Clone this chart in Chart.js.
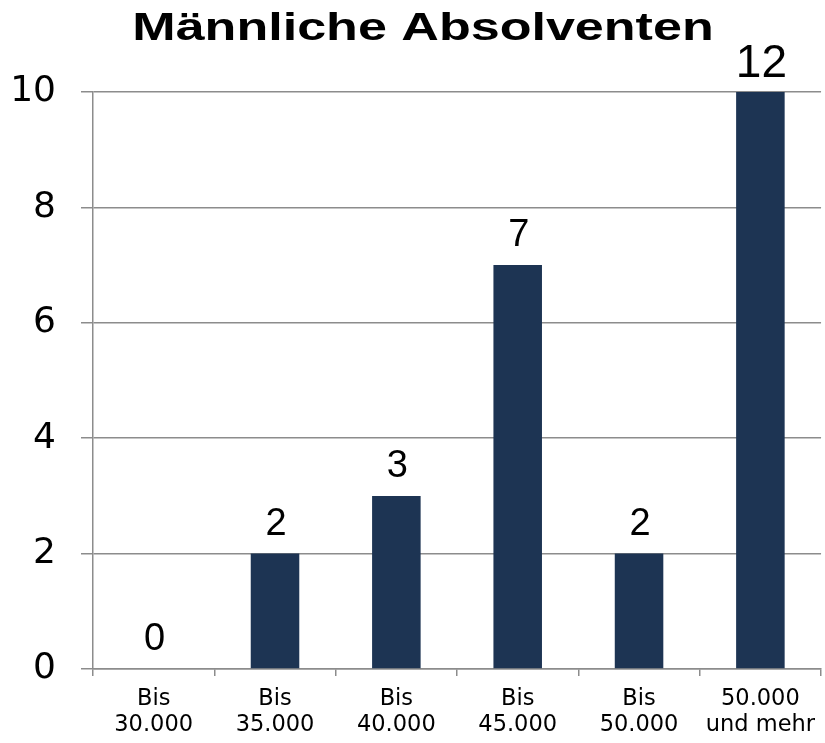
<!DOCTYPE html>
<html>
<head>
<meta charset="utf-8">
<script src="https://cdn.jsdelivr.net/npm/chart.js@4.4.1/dist/chart.umd.min.js"></script>
<style>
  html, body { margin: 0; padding: 0; background: #fff; }
  #wrap { width: 825px; height: 743px; }
</style>
</head>
<body>
<div id="wrap"><canvas id="bar-chart" width="825" height="743"></canvas></div>
<script>
// data
let chartTitle = 'Männliche Absolventen';
let categories = [
  ['Bis', '30.000'],
  ['Bis', '35.000'],
  ['Bis', '40.000'],
  ['Bis', '45.000'],
  ['Bis', '50.000'],
  ['50.000', 'und mehr'],
];
let values = [0, 2, 3, 7, 2, 12];
let yTicks = [0, 2, 4, 6, 8, 10];

const barColor = '#1d3453';
const gridColor = '#8c8c8c';

// draw text stretched sideways (the original title is wide)
function wideText(ctx, text, x, y, stretch) {
  ctx.save();
  ctx.translate(x, y);
  ctx.scale(stretch, 1);
  ctx.fillText(text, 0, 0);
  ctx.restore();
}

const wideTitle = {
  id: 'wideTitle',
  afterDraw(chart) {
    const ctx = chart.ctx;
    ctx.save();
    ctx.fillStyle = '#000';
    ctx.font = 'bold 38px "Liberation Sans", Arial, sans-serif';
    ctx.textAlign = 'center';
    ctx.textBaseline = 'alphabetic';
    wideText(ctx, chartTitle, 423, 40, 1.37);
    ctx.restore();
  }
};

// number above each bar (a bar taller than the axis gets it above the top, bigger)
const valueLabels = {
  id: 'valueLabels',
  afterDatasetsDraw(chart) {
    const ctx = chart.ctx;
    const area = chart.chartArea;
    const meta = chart.getDatasetMeta(0);
    ctx.save();
    ctx.fillStyle = '#000';
    ctx.textAlign = 'center';
    ctx.textBaseline = 'alphabetic';
    meta.data.forEach((bar, i) => {
      let clipped = bar.y < area.top;
      ctx.font = (clipped ? 46 : 38) + 'px "Liberation Sans", Arial, sans-serif';
      let top = Math.max(bar.y, area.top);
      ctx.fillText(String(values[i]), bar.x + 1, top - (clipped ? 15 : 19));
    });
    ctx.restore();
  }
};

const chart = new Chart(document.getElementById('bar-chart'), {
  type: 'bar',
  data: {
    labels: categories,
    datasets: [{
      label: chartTitle,
      data: values,
      backgroundColor: barColor,
      barPercentage: 0.4,
      categoryPercentage: 1,
    }],
  },
  options: {
    responsive: false,
    animation: false,
    layout: { padding: { top: 92, right: 0, bottom: 0, left: 0 } },
    plugins: {
      legend: { display: false },
      tooltip: { enabled: false },
      title: { display: false },
    },
    scales: {
      x: {
        grid: {
          display: true,
          offset: true,
          drawOnChartArea: false,
          drawTicks: true,
          tickLength: 7,
          color: gridColor,
          lineWidth: 1.5,
        },
        border: { display: true, color: gridColor, width: 1.5 },
        ticks: {
          color: '#000',
          padding: 10,
          maxRotation: 0,
          autoSkip: false,
          font: { family: '"DejaVu Sans", Verdana, sans-serif', size: 22.5, lineHeight: 1.16 },
        },
        afterFit(scale) { scale.height = 74; },
      },
      y: {
        min: 0,
        max: 10,
        afterBuildTicks(scale) { scale.ticks = yTicks.map(v => ({ value: v })); },
        grid: {
          color: gridColor,
          lineWidth: 1.5,
          tickLength: 12,
          drawTicks: true,
        },
        border: { display: true, color: gridColor, width: 1.5 },
        ticks: {
          color: '#000',
          padding: 25,
          font: { family: '"DejaVu Sans", Verdana, sans-serif', size: 36 },
        },
        afterFit(scale) { scale.width = 93; },
      },
    },
  },
  plugins: [valueLabels, wideTitle],
});
</script>
</body>
</html>
